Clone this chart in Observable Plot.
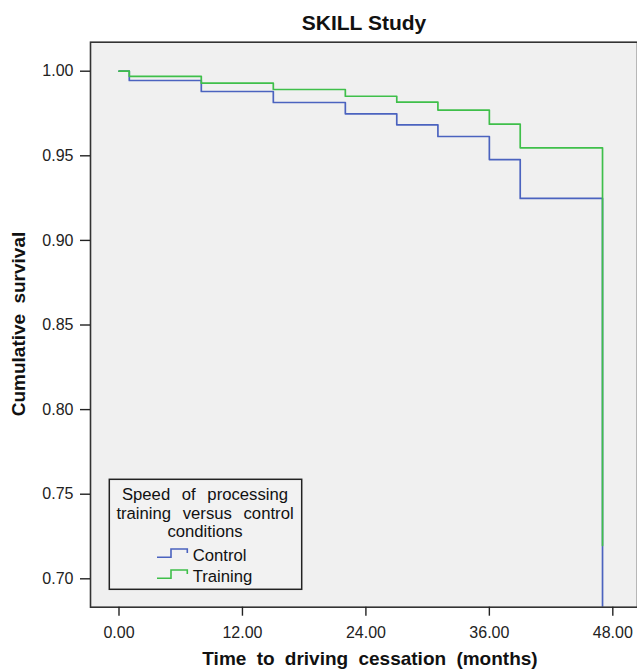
<!DOCTYPE html>
<html><head><meta charset="utf-8">
<script src="https://cdn.jsdelivr.net/npm/d3@7"></script>
<script src="https://cdn.jsdelivr.net/npm/@observablehq/plot@0.6"></script>
<style>body{margin:0;background:#fff} svg{display:block}</style>
</head><body><div id="chart"></div>
<script>
// ---- data ----
const months = [0, 1, 8, 15, 22, 27, 31, 36, 39, 47];
const controlSurvival  = [1.0, 0.9945, 0.9880, 0.9815, 0.9748, 0.9683, 0.9614, 0.9478, 0.9248, 0.0];
const trainingSurvival = [1.0, 0.9970, 0.9929, 0.9892, 0.9852, 0.9817, 0.9770, 0.9687, 0.9547, 0.7197];
const seriesNames = ["Control", "Training"];
const seriesColors = ["#4b63bf", "#3fbf4a"];
const xTicks = [0, 12, 24, 36, 48];
const xTickLabels = ["0.00", "12.00", "24.00", "36.00", "48.00"];
const yTicks = [0.70, 0.75, 0.80, 0.85, 0.90, 0.95, 1.00];
const yTickLabels = ["0.70", "0.75", "0.80", "0.85", "0.90", "0.95", "1.00"];
const titleText = "SKILL Study";
const xLabel = "Time to driving cessation (months)";
const yLabel = "Cumulative survival";
const legendTitle = ["Speed of processing", "training versus control", "conditions"];

const control = months.map((t, i) => ({t, s: controlSurvival[i]}));
const training = months.map((t, i) => ({t, s: trainingSurvival[i]}));

const plot = Plot.plot({
  width: 637, height: 670,
  marginTop: 41.7, marginBottom: 63.3, marginLeft: 90, marginRight: 0,
  style: {fontFamily: "'Liberation Sans', Arial, sans-serif", fontSize: "16px", color: "#222", background: "#fff"},
  x: {domain: [-2.77, 50.40]},
  y: {domain: [0.68322, 1.01714]},
  marks: [
    Plot.frame({fill: "#f0f0f0"}),
    Plot.line(control, {x: "t", y: "s", curve: "step-after", stroke: seriesColors[0], strokeWidth: 1.7, clip: true}),
    Plot.line(training, {x: "t", y: "s", curve: "step-after", stroke: seriesColors[1], strokeWidth: 1.7, clip: true}),
    Plot.frame({stroke: "#333", strokeWidth: 1.6}),
    Plot.axisY({ticks: yTicks, tickFormat: d => yTickLabels[yTicks.findIndex(v => Math.abs(v - d) < 1e-9)], tickSize: 10, tickPadding: 7, label: null, stroke: "#222", strokeWidth: 1.4}),
    Plot.axisX({ticks: xTicks, tickFormat: d => xTickLabels[xTicks.indexOf(d)], tickSize: 9, tickPadding: 10, label: null, stroke: "#222", strokeWidth: 1.4})
  ]
});
document.getElementById("chart").appendChild(plot);

const svg = d3.select(plot);
const font = "'Liberation Sans', Arial, sans-serif";
svg.append("text").attr("x", 364).attr("y", 23).attr("dy", "0.35em")
  .attr("text-anchor", "middle").attr("font-family", font).attr("font-weight", "bold")
  .attr("font-size", 21).attr("fill", "#111").text(titleText);
svg.append("text").attr("x", 370).attr("y", 658).attr("dy", "0.35em")
  .attr("text-anchor", "middle").attr("font-family", font).attr("font-weight", "bold")
  .attr("font-size", 19).attr("word-spacing", 5).attr("fill", "#111").text(xLabel);
svg.append("text").attr("transform", "translate(18.3,324) rotate(-90)").attr("dy", "0.35em")
  .attr("text-anchor", "middle").attr("font-family", font).attr("font-weight", "bold")
  .attr("font-size", 19).attr("word-spacing", 5).attr("fill", "#111").text(yLabel);

// legend
const lg = svg.append("g");
lg.append("rect").attr("x", 109.3).attr("y", 479.3).attr("width", 192.4).attr("height", 110)
  .attr("fill", "#f2f2f2").attr("stroke", "#222").attr("stroke-width", 1.5);
const lineY = [494, 512.7, 531];
legendTitle.forEach((s, i) => {
  lg.append("text").attr("x", 205).attr("y", lineY[i]).attr("dy", "0.35em")
    .attr("text-anchor", "middle").attr("font-family", font).attr("font-size", 16.7)
    .attr("word-spacing", 7).attr("fill", "#111").text(s);
});
const entryY = [555, 576];
seriesNames.forEach((name, i) => {
  const y = entryY[i];
  lg.append("path").attr("d", `M157,${y + 2.3}H171V${y - 6}H187.3V${y - 2}`)
    .attr("fill", "none").attr("stroke", seriesColors[i]).attr("stroke-width", 1.6);
  lg.append("text").attr("x", 192.7).attr("y", y).attr("dy", "0.35em")
    .attr("text-anchor", "start").attr("font-family", font).attr("font-size", 16.7)
    .attr("fill", "#111").text(name);
});
</script></body></html>
